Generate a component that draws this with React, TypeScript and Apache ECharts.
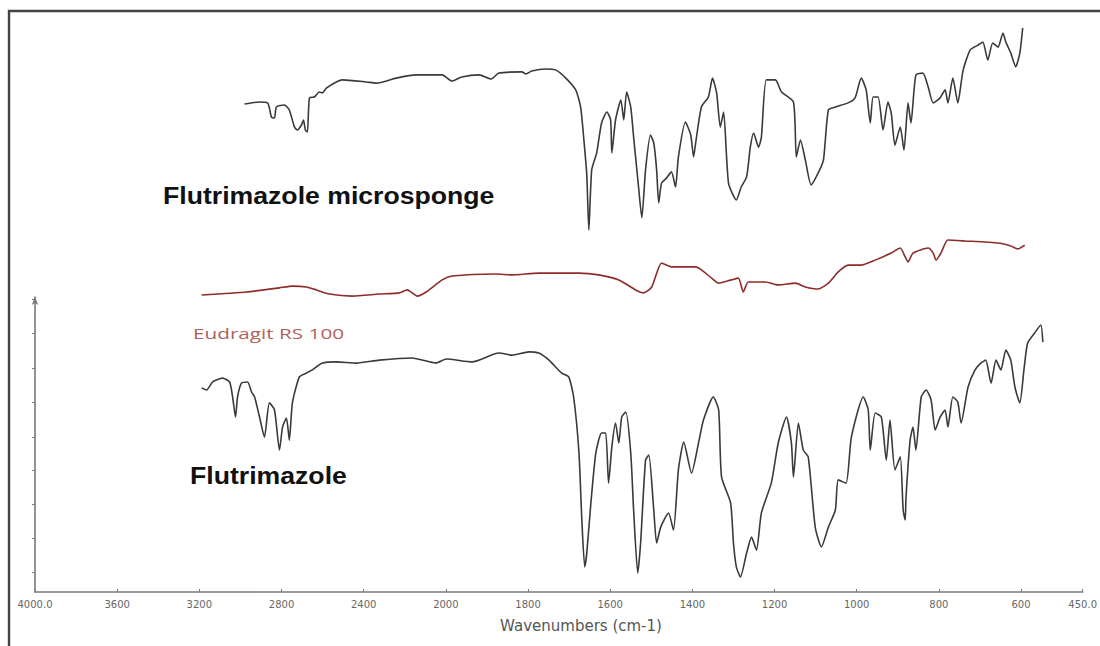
import React, { useEffect, useRef } from "react";
import * as echarts from "echarts";

// ---- X axis (wavenumber, cm-1) : split scale, expanded below 2000 ----
const xTickWavenumbers = [4000, 3600, 3200, 2800, 2400, 2000, 1800, 1600, 1400, 1200, 1000, 800, 600, 450];
const xTickLabels = ["4000.0", "3600", "3200", "2800", "2400", "2000", "1800", "1600", "1400", "1200", "1000", "800", "600", "450.0"];
const yTickValues = [6.8, 18.3, 29.8, 41.4, 52.5, 64.4, 75.9, 87.8, 99.3];

// ---- Flutrimazole microsponge (top black trace) ----
const micWn = [2980, 2907, 2868, 2859, 2849, 2834, 2825, 2786, 2762, 2737, 2723, 2703, 2693, 2684, 2674, 2664, 2640, 2616, 2601, 2582, 2533, 2504, 2387, 2339, 2242, 2145, 2018, 1985, 1961, 1919, 1890, 1871, 1815, 1805, 1791, 1757, 1732, 1708, 1684, 1672, 1664, 1657, 1652, 1645, 1633, 1621, 1608, 1599, 1596, 1587, 1574, 1567, 1560, 1550, 1543, 1531, 1523, 1514, 1502, 1494, 1487, 1482, 1475, 1463, 1451, 1441, 1434, 1417, 1404, 1397, 1392, 1378, 1361, 1351, 1341, 1332, 1324, 1312, 1293, 1281, 1268, 1259, 1251, 1239, 1232, 1220, 1198, 1183, 1154, 1147, 1137, 1125, 1111, 1094, 1081, 1069, 1052, 1021, 1004, 989, 977, 967, 960, 948, 936, 924, 916, 907, 894, 885, 875, 868, 856, 839, 826, 814, 797, 785, 778, 766, 754, 741, 724, 705, 693, 681, 669, 656, 644, 637, 625, 613, 603, 596];
const micT = [165.4, 166.1, 165.8, 164.1, 161.0, 160.7, 164.4, 165.1, 163.4, 157.6, 156.6, 158.3, 160.0, 156.6, 155.9, 167.5, 167.8, 169.5, 169.2, 170.8, 172.9, 173.6, 172.9, 172.5, 174.2, 175.3, 175.3, 173.2, 174.6, 175.3, 173.9, 175.9, 176.3, 175.6, 176.6, 177.3, 176.9, 174.2, 170.2, 164.4, 153.2, 141.4, 122.7, 143.1, 148.8, 159.0, 162.7, 160.0, 148.8, 160.0, 166.8, 160.0, 169.5, 164.4, 154.2, 137.3, 126.8, 143.1, 154.9, 152.2, 143.1, 131.9, 138.6, 140.3, 142.4, 137.3, 147.5, 159.3, 154.9, 147.5, 152.2, 164.4, 167.8, 174.2, 169.2, 157.6, 162.7, 138.6, 132.9, 137.3, 140.7, 150.8, 155.6, 150.8, 154.2, 173.6, 173.6, 169.5, 166.1, 147.5, 153.2, 146.4, 138.0, 142.0, 146.4, 163.4, 164.4, 165.8, 167.5, 174.2, 170.2, 159.0, 167.8, 167.8, 156.6, 166.1, 162.4, 151.5, 157.6, 149.8, 165.8, 159.0, 175.3, 175.9, 171.2, 165.8, 167.5, 170.2, 165.8, 174.2, 165.8, 176.9, 183.7, 185.4, 186.4, 180.3, 186.1, 184.7, 189.5, 186.4, 182.7, 178.0, 182.7, 191.2];

// ---- Eudragit RS 100 (middle red trace) ----
const eudWn = [3189, 2970, 2810, 2747, 2679, 2630, 2567, 2456, 2324, 2227, 2188, 2164, 2140, 2096, 2018, 1985, 1878, 1839, 1774, 1676, 1628, 1579, 1538, 1519, 1499, 1475, 1451, 1392, 1378, 1353, 1336, 1305, 1288, 1276, 1264, 1222, 1191, 1149, 1125, 1094, 1069, 1045, 1021, 989, 955, 916, 894, 882, 875, 863, 826, 814, 807, 795, 778, 737, 656, 625, 608, 591];
const eudT = [100.7, 101.7, 103.1, 103.7, 103.4, 102.4, 101.0, 100.3, 101.0, 101.4, 102.4, 101.4, 100.3, 101.7, 105.8, 107.1, 107.8, 107.5, 108.1, 108.1, 107.5, 105.8, 102.4, 101.4, 103.4, 111.5, 110.2, 110.2, 109.2, 106.4, 104.7, 105.8, 106.4, 101.7, 105.1, 105.1, 104.1, 104.7, 103.4, 102.7, 104.7, 108.5, 110.8, 110.8, 112.5, 114.9, 116.6, 113.6, 111.9, 114.9, 116.6, 114.9, 112.5, 114.9, 119.3, 119.0, 118.3, 117.3, 116.3, 117.6];

// ---- Flutrimazole (bottom black trace) ----
const fluWn = [3189, 3165, 3135, 3087, 3053, 3038, 3024, 3014, 2995, 2965, 2946, 2931, 2907, 2883, 2859, 2834, 2810, 2795, 2776, 2762, 2747, 2713, 2679, 2650, 2601, 2533, 2436, 2324, 2164, 2048, 1999, 1936, 1871, 1839, 1798, 1774, 1749, 1718, 1701, 1689, 1676, 1669, 1662, 1657, 1647, 1635, 1621, 1611, 1604, 1596, 1587, 1579, 1572, 1562, 1550, 1543, 1533, 1526, 1514, 1506, 1494, 1487, 1477, 1458, 1446, 1434, 1421, 1402, 1385, 1373, 1349, 1336, 1329, 1307, 1300, 1293, 1283, 1268, 1256, 1244, 1232, 1208, 1191, 1171, 1159, 1154, 1142, 1130, 1118, 1101, 1086, 1069, 1052, 1045, 1026, 1013, 984, 972, 967, 955, 940, 928, 919, 907, 894, 887, 882, 880, 870, 863, 856, 843, 831, 819, 809, 797, 785, 778, 766, 754, 746, 729, 712, 698, 686, 673, 661, 649, 637, 625, 615, 603, 593, 584, 567, 552, 547];
const fluT = [69.2, 68.5, 71.2, 72.5, 71.2, 66.1, 59.3, 66.1, 70.8, 71.2, 67.8, 66.1, 59.3, 52.5, 64.1, 61.7, 48.1, 55.9, 59.0, 51.5, 64.1, 72.9, 74.2, 75.3, 77.6, 78.0, 77.6, 78.6, 79.3, 77.6, 79.0, 78.0, 81.0, 80.3, 81.4, 81.0, 78.6, 74.2, 72.9, 66.1, 47.1, 24.4, 8.5, 13.2, 30.2, 47.1, 53.9, 53.9, 36.9, 49.2, 57.3, 50.5, 59.3, 61.0, 47.1, 27.8, 6.4, 16.6, 44.7, 46.4, 27.8, 16.6, 22.0, 26.8, 21.0, 41.4, 50.8, 40.3, 50.5, 58.3, 66.1, 61.7, 39.0, 30.2, 16.6, 8.5, 5.1, 13.2, 18.6, 14.2, 26.8, 36.9, 50.5, 59.3, 50.5, 39.0, 57.3, 48.1, 45.8, 22.0, 15.3, 22.0, 27.8, 38.0, 36.9, 52.5, 66.1, 61.7, 48.1, 60.7, 59.3, 44.7, 58.3, 41.4, 45.8, 27.8, 24.4, 32.2, 51.5, 55.9, 48.1, 66.1, 68.5, 65.1, 54.9, 59.3, 61.7, 55.9, 66.1, 64.4, 57.3, 69.5, 75.3, 77.6, 78.6, 70.8, 78.6, 75.3, 82.0, 78.6, 69.5, 64.1, 75.3, 84.4, 87.8, 90.5, 84.7];

// split-scale transform used by the x axis (above 2000: 2 cm-1 per unit, below: 1 cm-1 per unit)
const toAxis = (w: number) => (w >= 2000 ? (4000 - w) / 2 : 3000 - w);
const xTickPositions = xTickWavenumbers.map(toAxis);
const xMin = toAxis(4000);
const xMax = toAxis(450);

const pairs = (wn: number[], t: number[]) => wn.map((w, i) => [toAxis(w), t[i]]);

export default function App() {
  const ref = useRef<HTMLDivElement>(null);
  useEffect(() => {
    if (!ref.current) return;
    const chart = echarts.init(ref.current, null, { renderer: "svg" });
    const axisColor = "#7a7a7a";
    const traceStyle = { color: "#3a3a3a", width: 1.6 };
    chart.setOption({
      animation: false,
      backgroundColor: "#ffffff",
      grid: [
        { left: 35, right: 15, top: 2, bottom: 54 },
        { left: 35, right: 15, top: 297, bottom: 54 },
      ],
      xAxis: [
        {
          type: "value",
          gridIndex: 0,
          min: xMin,
          max: xMax,
          axisLine: { show: true, onZero: false, lineStyle: { color: axisColor, width: 1.6 } },
          axisTick: { show: true, inside: true, length: 3, customValues: xTickPositions, lineStyle: { color: axisColor } },
          axisLabel: {
            show: true,
            customValues: xTickPositions,
            margin: 7,
            fontSize: 10,
            fontFamily: "DejaVu Sans",
            color: "#666",
            formatter: (v: number) => {
              const i = xTickPositions.findIndex((c) => Math.abs(c - v) < 1e-6);
              return i >= 0 ? xTickLabels[i] : "";
            },
          },
          splitLine: { show: false },
        },
        {
          type: "value",
          gridIndex: 1,
          min: xMin,
          max: xMax,
          show: false,
        },
      ],
      yAxis: [
        { type: "value", gridIndex: 0, min: 0, max: 200, show: false },
        {
          type: "value",
          gridIndex: 1,
          min: 0,
          max: 100,
          axisLine: {
            show: true,
            onZero: false,
            symbol: ["none", "arrow"],
            symbolSize: [5, 8],
            lineStyle: { color: axisColor, width: 1.6 },
          },
          axisTick: { show: true, length: 3, customValues: yTickValues, lineStyle: { color: axisColor } },
          axisLabel: { show: false },
          splitLine: { show: false },
        },
      ],
      series: [
        {
          name: "Flutrimazole microsponge",
          type: "line",
          xAxisIndex: 0,
          yAxisIndex: 0,
          data: pairs(micWn, micT),
          showSymbol: false,
          smooth: 0.2,
          lineStyle: traceStyle,
        },
        {
          name: "Eudragit RS 100",
          type: "line",
          xAxisIndex: 0,
          yAxisIndex: 0,
          data: pairs(eudWn, eudT),
          showSymbol: false,
          smooth: 0.2,
          lineStyle: { color: "#8e2b2b", width: 1.6 },
        },
        {
          name: "Flutrimazole",
          type: "line",
          xAxisIndex: 0,
          yAxisIndex: 0,
          data: pairs(fluWn, fluT),
          showSymbol: false,
          smooth: 0.2,
          lineStyle: traceStyle,
        },
      ],
      graphic: [
        {
          type: "rect",
          shape: { x: 9, y: 11, width: 1300, height: 1000 },
          style: { fill: "none", stroke: "#444", lineWidth: 2.4 },
          silent: true,
        },
        {
          type: "text",
          x: 163,
          y: 195,
          scaleX: 1.11,
          style: {
            text: "Flutrimazole microsponge",
            fontSize: 24,
            fontWeight: "bold",
            fontFamily: "Liberation Sans, Arial, sans-serif",
            fill: "#111",
            verticalAlign: "middle",
            align: "left",
          },
        },
        {
          type: "text",
          x: 193,
          y: 333,
          scaleX: 1.48,
          style: {
            text: "Eudragit RS 100",
            fontSize: 14,
            fontFamily: "Open Sans, sans-serif",
            fill: "#b0625b",
            verticalAlign: "middle",
            align: "left",
          },
        },
        {
          type: "text",
          x: 190,
          y: 475,
          scaleX: 1.11,
          style: {
            text: "Flutrimazole",
            fontSize: 24,
            fontWeight: "bold",
            fontFamily: "Liberation Sans, Arial, sans-serif",
            fill: "#111",
            verticalAlign: "middle",
            align: "left",
          },
        },
        {
          type: "text",
          x: 581,
          y: 626,
          style: {
            text: "Wavenumbers (cm-1)",
            fontSize: 15,
            fontFamily: "DejaVu Sans, sans-serif",
            fill: "#555",
            verticalAlign: "middle",
            align: "center",
          },
        },
      ],
    });
    return () => chart.dispose();
  }, []);
  return (
    <div
      ref={ref}
      style={{ position: "absolute", left: 0, top: 0, width: 1100, height: 646 }}
    />
  );
}
